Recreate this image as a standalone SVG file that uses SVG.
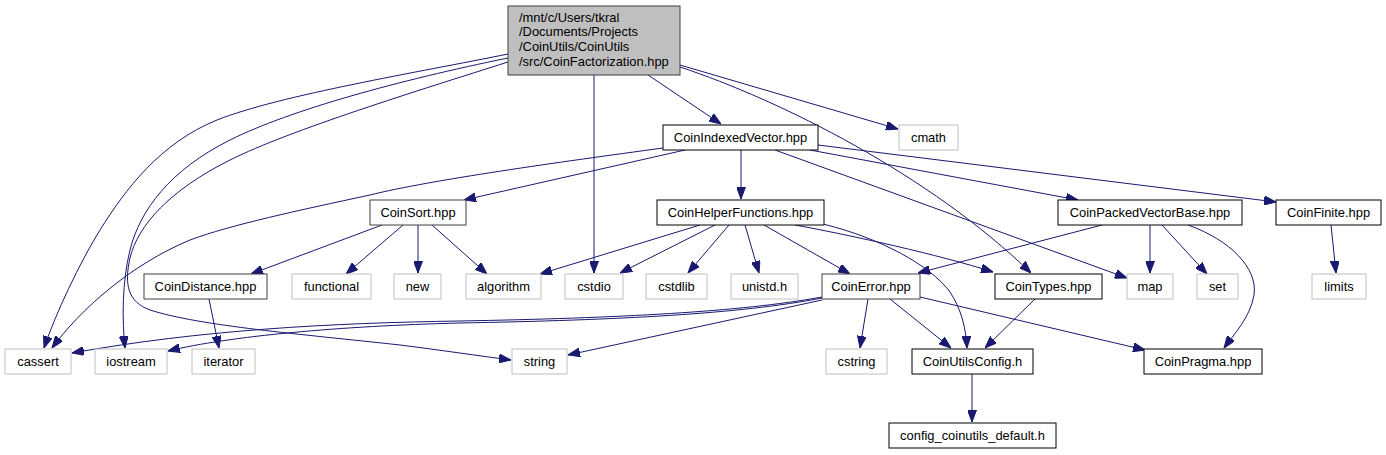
<svg xmlns="http://www.w3.org/2000/svg" width="1386" height="455" viewBox="0 0 1386 455">
<style>
text{font-family:"Liberation Sans",Arial,Helvetica,sans-serif;font-size:12.9px;fill:#000}
.n rect{fill:#fff;stroke:#000;stroke-width:1}
.d rect{fill:#fff;stroke:#404040;stroke-width:1}
.g rect{fill:#fff;stroke:#bfbfbf;stroke-width:1}
.r rect{fill:#bfbfbf;stroke:#404040;stroke-width:1}
.n text,.d text,.g text{text-anchor:middle}
#edges path{fill:none;stroke:#191970;stroke-width:1;marker-end:url(#ah)}
</style>
<defs>
<marker id="ah" viewBox="0 0 12 9" refX="12" refY="4.5" markerWidth="12" markerHeight="9" markerUnits="userSpaceOnUse" orient="auto">
<path d="M0,0 L12,4.5 L0,9 z" fill="#191970" stroke="#191970" stroke-width="1"/>
</marker>
</defs>
<rect width="1386" height="455" fill="#fff"/>
<g id="edges">
<path d="M508,54 C420,72 280,95 217,120 C160,143 125,190 100,230 C80,262 55,315 44,348"/>
<path d="M508,58 C400,80 290,110 230,140 C170,170 140,210 130,250 C122,282 122,320 125,348"/>
<path d="M508,62 C420,90 290,130 230,160 C170,190 138,225 130,258 C124,285 128,302 150,310 C200,326 300,334 400,345 C440,350 480,356 511,360"/>
<path d="M594,75 L594,273"/>
<path d="M648,75 L721,124"/>
<path d="M680,65 L898,129"/>
<path d="M680,67 C780,100 930,175 1031,273"/>
<path d="M663,148 C560,162 430,180 370,195 C300,210 230,225 190,240 C130,265 80,310 52,348"/>
<path d="M685,150 L464,200"/>
<path d="M741,150 L741,199"/>
<path d="M810,150 L1078,200"/>
<path d="M818,145 L1276,202"/>
<path d="M775,150 L1127,278"/>
<path d="M382,225 L251,274"/>
<path d="M403,225 L346,274"/>
<path d="M418,225 L418,273"/>
<path d="M432,225 L487,274"/>
<path d="M209,299 L219,348"/>
<path d="M700,225 L540,274"/>
<path d="M715,225 L620,273"/>
<path d="M729,225 L688,273"/>
<path d="M745,225 L759,273"/>
<path d="M764,225 L850,274"/>
<path d="M795,225 C850,235 940,255 993,272"/>
<path d="M823,224 C880,238 930,265 950,292 C962,310 966,330 967,348"/>
<path d="M1102,225 L918,273"/>
<path d="M1150,225 L1150,273"/>
<path d="M1162,225 L1207,274"/>
<path d="M1188,225 C1230,240 1258,268 1254,295 C1250,318 1234,334 1224,348"/>
<path d="M1331,225 L1336,273"/>
<path d="M822,297 C740,312 620,318 460,321 C330,323 200,330 72,353"/>
<path d="M822,298 C740,314 620,320 460,323 C340,326 230,336 168,351"/>
<path d="M822,300 L568,355"/>
<path d="M868,299 L860,348"/>
<path d="M890,299 L951,348"/>
<path d="M920,297 L1145,350"/>
<path d="M1035,299 L985,348"/>
<path d="M972,374 L972,422"/>
</g>
<g id="main" class="r"><rect x="508" y="6" width="172" height="69"/>
<text x="519" y="21.5">/mnt/c/Users/tkral</text>
<text x="519" y="36.2">/Documents/Projects</text>
<text x="519" y="50.9">/CoinUtils/CoinUtils</text>
<text x="519" y="65.6">/src/CoinFactorization.hpp</text></g>
<g id="CoinIndexedVector" class="n"><rect x="663" y="125" width="155" height="25"/><text x="740.5" y="142">CoinIndexedVector.hpp</text></g>
<g id="cmath" class="g"><rect x="899" y="125" width="59" height="25"/><text x="928.5" y="142">cmath</text></g>
<g id="CoinSort" class="d"><rect x="370" y="200" width="96" height="25"/><text x="418" y="217">CoinSort.hpp</text></g>
<g id="CoinHelperFunctions" class="n"><rect x="657" y="200" width="167" height="25"/><text x="740.5" y="217">CoinHelperFunctions.hpp</text></g>
<g id="CoinPackedVectorBase" class="n"><rect x="1058" y="200" width="184" height="25"/><text x="1150" y="217">CoinPackedVectorBase.hpp</text></g>
<g id="CoinFinite" class="n"><rect x="1276" y="200" width="105" height="25"/><text x="1328.5" y="217">CoinFinite.hpp</text></g>
<g id="CoinDistance" class="d"><rect x="144" y="274" width="123" height="25"/><text x="205.5" y="291">CoinDistance.hpp</text></g>
<g id="functional" class="g"><rect x="292" y="274" width="79" height="25"/><text x="331.5" y="291">functional</text></g>
<g id="new" class="g"><rect x="394" y="274" width="47" height="25"/><text x="417.5" y="291">new</text></g>
<g id="algorithm" class="g"><rect x="466" y="274" width="75" height="25"/><text x="503.5" y="291">algorithm</text></g>
<g id="cstdio" class="g"><rect x="565" y="274" width="58" height="25"/><text x="594" y="291">cstdio</text></g>
<g id="cstdlib" class="g"><rect x="646" y="274" width="61" height="25"/><text x="676.5" y="291">cstdlib</text></g>
<g id="unistd" class="g"><rect x="731" y="274" width="67" height="25"/><text x="764.5" y="291">unistd.h</text></g>
<g id="CoinError" class="d"><rect x="822" y="274" width="98" height="25"/><text x="871" y="291">CoinError.hpp</text></g>
<g id="CoinTypes" class="n"><rect x="995" y="274" width="107" height="25"/><text x="1048.5" y="291">CoinTypes.hpp</text></g>
<g id="map" class="g"><rect x="1127" y="274" width="46" height="25"/><text x="1150" y="291">map</text></g>
<g id="set" class="g"><rect x="1197" y="274" width="41" height="25"/><text x="1217.5" y="291">set</text></g>
<g id="limits" class="g"><rect x="1312" y="274" width="54" height="25"/><text x="1339" y="291">limits</text></g>
<g id="cassert" class="g"><rect x="5" y="349" width="66" height="25"/><text x="38" y="366">cassert</text></g>
<g id="iostream" class="g"><rect x="95" y="349" width="72" height="25"/><text x="131" y="366">iostream</text></g>
<g id="iterator" class="g"><rect x="192" y="349" width="63" height="25"/><text x="223.5" y="366">iterator</text></g>
<g id="string" class="g"><rect x="512" y="349" width="55" height="25"/><text x="539.5" y="366">string</text></g>
<g id="cstring" class="g"><rect x="826" y="349" width="61" height="25"/><text x="856.5" y="366">cstring</text></g>
<g id="CoinUtilsConfig" class="n"><rect x="912" y="349" width="121" height="25"/><text x="972.5" y="366">CoinUtilsConfig.h</text></g>
<g id="CoinPragma" class="n"><rect x="1144" y="349" width="118" height="25"/><text x="1203" y="366">CoinPragma.hpp</text></g>
<g id="config_coinutils_default" class="n"><rect x="889" y="423" width="167" height="25"/><text x="972.5" y="440">config_coinutils_default.h</text></g>
</svg>
